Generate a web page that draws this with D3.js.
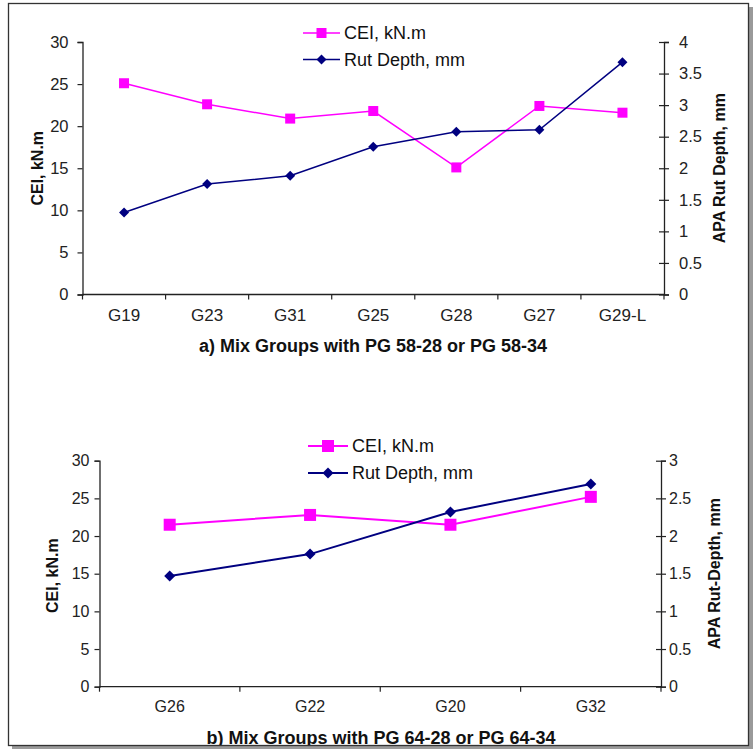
<!DOCTYPE html>
<html><head><meta charset="utf-8">
<script src="https://cdn.jsdelivr.net/npm/d3@7"></script>
<style>
html,body{margin:0;padding:0;background:#fff;}
svg{display:block;font-family:"Liberation Sans",Arial,sans-serif;}
</style></head>
<body>
<svg id="chart" width="754" height="750"></svg>
<script>
// ---- Data ----
const categoriesA = ["G19","G23","G31","G25","G28","G27","G29-L"];
const ceiA = [25.1, 22.6, 20.9, 21.8, 15.1, 22.4, 21.6];
const rutA = [1.30, 1.75, 1.88, 2.34, 2.58, 2.61, 3.68];
const categoriesB = ["G26","G22","G20","G32"];
const ceiB = [21.5, 22.8, 21.5, 25.2];
const rutB = [1.47, 1.76, 2.32, 2.69];
const leftTicks = [0,5,10,15,20,25,30];
const rightTicksA = [0,0.5,1,1.5,2,2.5,3,3.5,4];
const rightTicksB = [0,0.5,1,1.5,2,2.5,3];
const seriesNames = ["CEI, kN.m","Rut Depth, mm"];
const titleA = "a) Mix Groups with PG 58-28 or PG 58-34";
const titleB = "b) Mix Groups with PG 64-28 or PG 64-34";
const leftTitle = "CEI, kN.m";
const rightTitleA = "APA Rut Depth, mm";
const rightTitleB = "APA Rut-Depth, mm";

const PINK = "#ff00ff", NAVY = "#000080", AX = "#222";
const svg = d3.select("#chart");

// shadow + frame
svg.append("rect").attr("x",12).attr("y",7).attr("width",741).attr("height",742).attr("fill","#9a9a9a");
svg.append("rect").attr("x",8.5).attr("y",3.5).attr("width",740).attr("height",742).attr("fill","#fff");

function drawChart(o){
  const g = svg.append("g");
  const x = d3.scaleBand().domain(o.cats).range([o.x0,o.x1]).padding(0);
  const yL = d3.scaleLinear().domain([0,30]).range([o.yb,o.yt]);
  const yR = d3.scaleLinear().domain([0,o.rmax]).range([o.yb,o.yt]);
  const cx = c => x(c) + x.bandwidth()/2;

  const la = g.append("g").attr("transform",`translate(${o.x0},0)`)
    .call(d3.axisLeft(yL).tickValues(leftTicks).tickSize(5).tickPadding(o.lpad).tickFormat(d3.format("d")));
  const ra = g.append("g").attr("transform",`translate(${o.x1},0)`)
    .call(d3.axisRight(yR).tickValues(o.rticks).tickSize(5).tickPadding(o.rpad).tickFormat(d=>String(d)));
  ra.selectAll(".tick line").attr("x1",-5).attr("x2",5);
  const xa = g.append("g").attr("transform",`translate(0,${o.yb})`)
    .call(d3.axisBottom(x).tickSize(0).tickPadding(o.xpad));
  const bounds = o.cats.map(c=>x(c)).concat([o.x1]);
  xa.selectAll(".bt").data(bounds).enter().append("line").attr("class","bt")
    .attr("x1",d=>d).attr("x2",d=>d).attr("y1",0).attr("y2",5).attr("stroke",AX).attr("stroke-width",1.2);
  [la,ra,xa].forEach(a=>{
    a.select(".domain").attr("stroke",AX).attr("stroke-width",1.3);
    a.selectAll(".tick line").attr("stroke",AX).attr("stroke-width",1.2);
    a.selectAll("text").attr("fill","#222").attr("font-family","'Liberation Sans',Arial,sans-serif");
  });
  la.selectAll("text").attr("font-size",o.tickFs);
  ra.selectAll("text").attr("font-size",o.tickFs);
  xa.selectAll("text").attr("font-size",o.catFs);
  xa.select(".domain").attr("d",`M${o.x0},0H${o.x1}`);

  const lineL = d3.line().x((d,i)=>cx(o.cats[i])).y(d=>yL(d));
  const lineR = d3.line().x((d,i)=>cx(o.cats[i])).y(d=>yR(d));
  g.append("path").attr("d",lineL(o.cei)).attr("fill","none").attr("stroke",PINK).attr("stroke-width",o.lw);
  g.append("path").attr("d",lineR(o.rut)).attr("fill","none").attr("stroke",NAVY).attr("stroke-width",o.lw);
  g.selectAll(null).data(o.cei).enter().append("rect")
    .attr("x",(d,i)=>cx(o.cats[i])-o.sq/2).attr("y",d=>yL(d)-o.sq/2)
    .attr("width",o.sq).attr("height",o.sq).attr("fill",PINK);
  const dm = o.dm;
  g.selectAll(null).data(o.rut).enter().append("path")
    .attr("d",(d,i)=>{const px=cx(o.cats[i]),py=yR(d);return `M${px},${py-dm}L${px+dm},${py}L${px},${py+dm}L${px-dm},${py}Z`;})
    .attr("fill",NAVY);

  g.append("text").attr("transform",`translate(${o.ltx},${(o.yt+o.yb)/2+o.ltdy}) rotate(-90)`)
    .attr("text-anchor","middle").attr("dominant-baseline","central")
    .attr("font-size",o.atFs).attr("font-weight","bold").attr("fill","#111").text(leftTitle);
  g.append("text").attr("transform",`translate(${o.rtx},${(o.yt+o.yb)/2+o.rtdy}) rotate(-90)`)
    .attr("text-anchor","middle").attr("dominant-baseline","central")
    .attr("font-size",o.atFs).attr("font-weight","bold").attr("fill","#111").text(o.rtitle);

  g.append("text").attr("x",o.tx).attr("y",o.ty).attr("text-anchor","middle").attr("dominant-baseline","central")
    .attr("font-size",o.tFs).attr("font-weight","bold").attr("fill","#111").text(o.title);

  const lg = g.append("g");
  const colors=[PINK,NAVY];
  seriesNames.forEach((nm,i)=>{
    const ly = o.legY[i];
    lg.append("line").attr("x1",o.legX0).attr("x2",o.legX1).attr("y1",ly).attr("y2",ly)
      .attr("stroke",colors[i]).attr("stroke-width",o.lw);
    const mx=(o.legX0+o.legX1)/2;
    if(i===0) lg.append("rect").attr("x",mx-o.sq/2).attr("y",ly-o.sq/2).attr("width",o.sq).attr("height",o.sq).attr("fill",PINK);
    else lg.append("path").attr("d",`M${mx},${ly-dm}L${mx+dm},${ly}L${mx},${ly+dm}L${mx-dm},${ly}Z`).attr("fill",NAVY);
    lg.append("text").attr("x",o.legX1+4).attr("y",ly).attr("dominant-baseline","central")
      .attr("font-size",o.legFs).attr("fill","#111").text(nm);
  });
}

drawChart({cats:categoriesA,cei:ceiA,rut:rutA,rmax:4,rticks:rightTicksA,
  x0:82.5,x1:664,yt:42,yb:294.5,lpad:9,rpad:10,xpad:14,tickFs:16.5,catFs:17,lw:1.5,sq:10,dm:5,
  ltx:37,ltdy:0,rtx:719,rtdy:0,rtitle:rightTitleA,atFs:16,
  title:titleA,tx:373,ty:346,tFs:18,
  legX0:303,legX1:340,legY:[33,59.5],legFs:18});

drawChart({cats:categoriesB,cei:ceiB,rut:rutB,rmax:3,rticks:rightTicksB,
  x0:99.5,x1:661,yt:460.7,yb:686.7,lpad:5,rpad:3,xpad:14,tickFs:16,catFs:16,lw:2,sq:12,dm:5.5,
  ltx:52,ltdy:2,rtx:714,rtdy:0,rtitle:rightTitleB,atFs:16,
  title:titleB,tx:381,ty:738,tFs:18,
  legX0:308,legX1:348,legY:[446,473],legFs:18});

svg.append("rect").attr("x",8).attr("y",746).attr("width",746).attr("height",4).attr("fill","#fff");
svg.append("rect").attr("x",12).attr("y",746).attr("width",741).attr("height",3).attr("fill","#9a9a9a");
svg.append("rect").attr("x",8.5).attr("y",3.5).attr("width",740).attr("height",742)
  .attr("fill","none").attr("stroke","#333").attr("stroke-width",1.3);
</script>
</body></html>
